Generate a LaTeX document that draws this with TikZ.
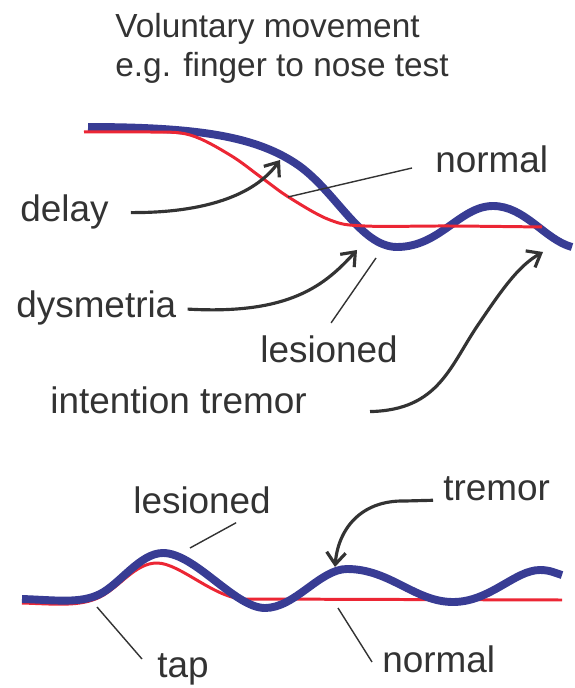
\documentclass[tikz,border=0pt]{standalone}
\usepackage{fontspec}
\setmainfont{Liberation Sans}
\usetikzlibrary{arrows.meta}
\definecolor{lesblue}{RGB}{56,60,148}
\definecolor{normred}{RGB}{236,38,52}
\definecolor{inkgray}{RGB}{51,51,51}
\tikzset{
  heading/.style={inner sep=0pt, anchor=base west, align=left, text=inkgray, font=\fontsize{19}{22.7}\selectfont},
  word/.style={inner sep=0pt, anchor=base west, text=inkgray, font=\fontsize{21}{25}\selectfont},
  normtrace/.style={draw=normred, line width=1.7pt},
  lestrace/.style={draw=lesblue, line width=4.5pt},
  pointer/.style={-{Straight Barb[length=2.4mm,width=3.8mm]}, draw=inkgray, line width=1.8pt},
  leader/.style={draw=inkgray, line width=0.8pt}
}

\begin{document}
\begin{tikzpicture}[x=0.02cm,y=-0.02cm]
  \useasboundingbox (0,0) rectangle (574,688);

  \node[heading] (title) at (115,77) {Voluntary movement\\e.g. finger to nose test};

  \draw[lestrace] (88,127) .. controls (200,127) and (255,137) .. (295,163) .. controls (335,189) and (360,247) .. (397,247) .. controls (440,247) and (460,206) .. (493,206) .. controls (525,206) and (545,240) .. (572,247);
  \draw[normtrace] plot[smooth, tension=0.6] coordinates {(84,132) (150,132) (190,135) (230,155) (262,178) (290,198) (330,220) (365,226) (450,226) (542,227)};

  \draw[normtrace] (22,603) .. controls (55,604) and (80,607) .. (100,597) .. controls (120,587) and (135,563) .. (157,563) .. controls (180,563) and (215,599) .. (245,599) -- (562,600);
  \draw[lestrace] (22,599) .. controls (55,600) and (80,604) .. (100,594) .. controls (120,584) and (140,553) .. (163,553) .. controls (195,553) and (235,608) .. (265,608) .. controls (295,608) and (320,569) .. (347,569) .. controls (390,569) and (415,602) .. (453,602) .. controls (490,602) and (515,570) .. (540,570) .. controls (550,570) and (555,573) .. (562,575);

  \coordinate (delayTip) at (280,160);
  \coordinate (dysmTip) at (357,250);
  \coordinate (intentTip) at (543,252);
  \coordinate (tremTip) at (335,567);
  \coordinate (normPt) at (288,197);
  \coordinate (lesPt) at (376,258);
  \coordinate (lesPtB) at (190,548);
  \coordinate (tapPt) at (97,607);
  \coordinate (normPtB) at (338,608);

  \node[word] (delay) at (20,222) {delay};
  \node[word] (dysm) at (16,318) {dysmetria};
  \node[word] (intent) at (50,413) {intention tremor};
  \node[word] (normA) at (435,173) {normal};
  \node[word] (lesA) at (260,362) {lesioned};
  \node[word] (lesB) at (133,513) {lesioned};
  \node[word] (tremB) at (443,500) {tremor};
  \node[word] (tapB) at (157,677) {tap};
  \node[word] (normB) at (382,672) {normal};

  \draw[pointer, shorten <=0.44cm] (delay.east) .. controls (205,213) and (255,195) .. (delayTip);
  \draw[pointer, shorten <=0.22cm] (dysm.east) .. controls (290,315) and (325,285) .. (dysmTip);
  \draw[pointer, shorten <=1.26cm] (intent.base east) .. controls (440,410) and (450,365) .. (480,322) .. controls (505,285) and (520,265) .. (intentTip);
  \draw[pointer, shorten <=0.2cm] (tremB.base west) -- (405,501) .. controls (360,500) and (338,530) .. (tremTip);

  \draw[leader] (normPt) -- ([shift={(-23,-5)}]normA.base west);
  \draw[leader] (lesPt) -- ([shift={(2,-12)}]lesA.north);
  \draw[leader] (lesPtB) -- ([shift={(-35,9)}]lesB.south east);
  \draw[leader] (tapPt) -- ([shift={(-15,-18)}]tapB.base west);
  \draw[leader] (normPtB) -- ([shift={(-10,-10)}]normB.base west);
\end{tikzpicture}
\end{document}
